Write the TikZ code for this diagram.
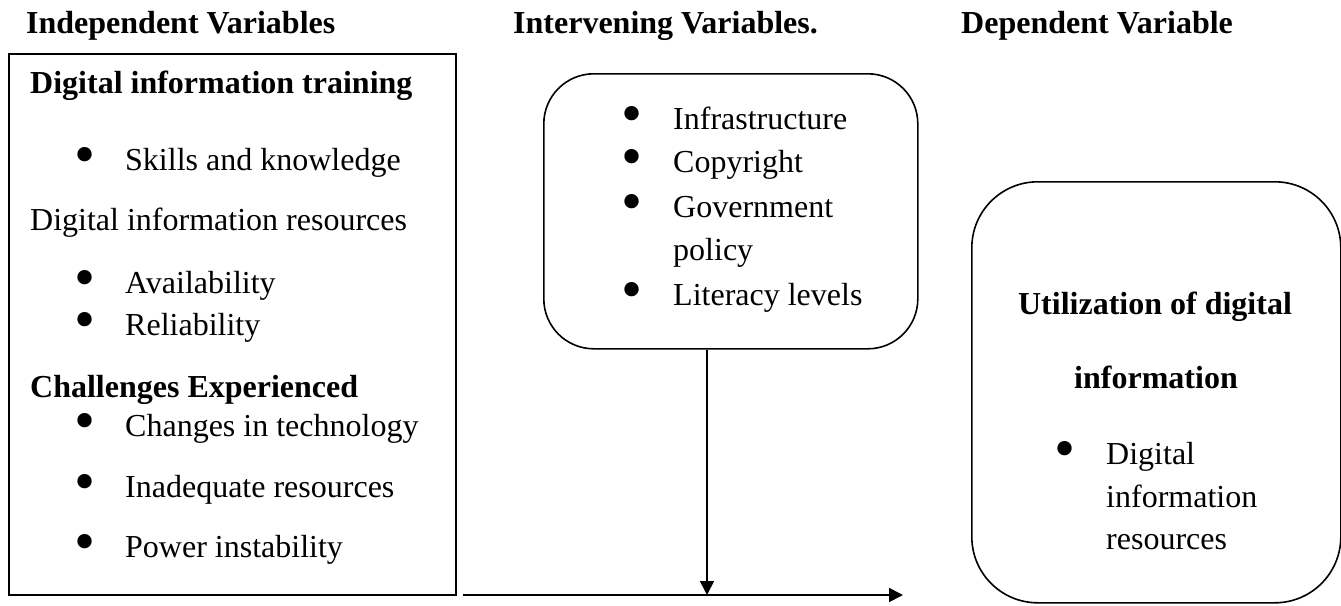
\documentclass[tikz,border=0pt]{standalone}
\usepackage{fontspec}
\setmainfont{Liberation Serif}
\usetikzlibrary{arrows.meta}
\begin{document}
\begin{tikzpicture}[x=1pt,y=-1pt,
  txt/.style={anchor=base west,inner sep=0pt,font=\fontsize{32}{38}\selectfont},
  bold/.style={txt,font=\fontsize{32}{38}\selectfont\bfseries},
  bul/.style={anchor=center,inner sep=0pt,font=\fontsize{60}{64}\selectfont},
  frame/.style={draw,line width=1.6pt,inner sep=0pt,anchor=north west},
  link/.style={line width=1.6pt,-{Triangle[length=14pt,width=14pt]}}]
\useasboundingbox (0,0) rectangle (1341,605);

% column headings
\node[bold] (h1) at (26,33) {Independent Variables};
\node[bold] (h2) at (513,33) {Intervening Variables.};
\node[bold] (h3) at (961,33) {Dependent Variable};

% boxes
\node[frame,minimum width=447pt,minimum height=541pt] (indep) at (8,53) {};
\node[frame,rounded corners=50pt,minimum width=374pt,minimum height=275pt] (interv) at (543,73) {};
\node[frame,rounded corners=66pt,minimum width=369pt,minimum height=421pt] (dep) at (971,181) {};

% independent variables
\node[bold] (t1) at (30,93) {Digital information training};
\node[bul] (b1) at (85,161) {\textbullet};
\node[txt] (s1) at (125,170) {Skills and knowledge};
\node[txt] (t2) at (30,230) {Digital information resources};
\node[bul] (b2) at (85,284) {\textbullet};
\node[txt] (s2) at (125,293) {Availability};
\node[bul] (b3) at (85,326) {\textbullet};
\node[txt] (s3) at (125,335) {Reliability};
\node[bold] (t3) at (30,397) {Challenges Experienced};
\node[bul] (b4) at (85,427) {\textbullet};
\node[txt] (s4) at (125,436) {Changes in technology};
\node[bul] (b5) at (85,488) {\textbullet};
\node[txt] (s5) at (125,497) {Inadequate resources};
\node[bul] (b6) at (85,548) {\textbullet};
\node[txt] (s6) at (125,557) {Power instability};

% intervening variables
\node[bul] (m1) at (632,120) {\textbullet};
\node[txt] (i1) at (673,129) {Infrastructure};
\node[bul] (m2) at (632,163) {\textbullet};
\node[txt] (i2) at (673,172) {Copyright};
\node[bul] (m3) at (632,208) {\textbullet};
\node[txt] (i3) at (673,217) {Government};
\node[txt] (i3b) at (673,260) {policy};
\node[bul] (m4) at (632,296) {\textbullet};
\node[txt] (i4) at (673,305) {Literacy levels};

% dependent variable
\node[bold,anchor=base] (d1) at (1155,314) {Utilization of digital};
\node[bold,anchor=base] (d2) at (1156,388) {information};
\node[bul] (r1) at (1065,455) {\textbullet};
\node[txt] (e1) at (1106,464) {Digital};
\node[txt] (e2) at (1106,507) {information};
\node[txt] (e3) at (1106,549) {resources};

% connectors
\coordinate (hstart) at (463,595);
\coordinate (hend) at (903,595);
\coordinate (vtop) at (interv.south -| 707,0);
\coordinate (vjoin) at (707,595);
\draw[link] (hstart) -- (hend);
\draw[link] (vtop) -- (vjoin);
\end{tikzpicture}
\end{document}
